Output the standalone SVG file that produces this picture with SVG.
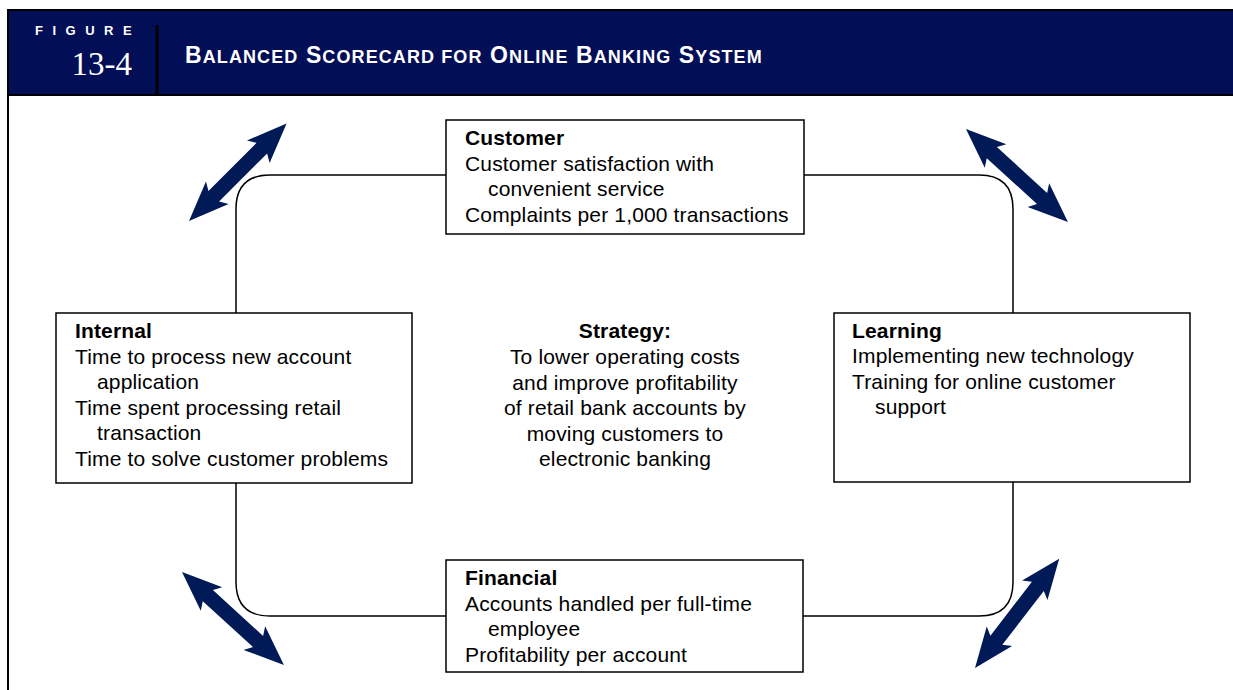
<svg xmlns="http://www.w3.org/2000/svg" width="1233" height="690" viewBox="0 0 1233 690">
<style>
.box{fill:#fff;stroke:#000;stroke-width:1.5}
.loop{fill:none;stroke:#000;stroke-width:1.5}
.t{font-family:"Liberation Sans",Arial,sans-serif;font-size:21px;letter-spacing:0.15px;fill:#000}
.b{font-weight:bold}
.arr{fill:#001A57}
.hd{font-family:"Liberation Sans",Arial,sans-serif;font-weight:bold;fill:#fff}
</style>
<defs>
<path id="dbl" d="M0,0 L40,-16 L35,-7.5 L103,-7.5 L98,-16 L138,0 L98,16 L103,7.5 L35,7.5 L40,16 Z"/>
</defs>
<rect x="0" y="0" width="1233" height="690" fill="#fff"/>
<g id="header">
<rect x="8" y="10" width="1226" height="85" fill="#020E55" stroke="#000" stroke-width="2"/>
<line x1="157" y1="25" x2="157" y2="95" stroke="#000" stroke-width="3"/>
<text x="35" y="35" class="hd" font-size="13" letter-spacing="9.5">FIGURE</text>
<text x="132" y="75" font-family="'Liberation Serif',serif" font-size="33" fill="#fff" text-anchor="end">13-4</text>
<text x="185" y="63" class="hd" font-size="23" letter-spacing="1.1">B<tspan font-size="18">ALANCED</tspan> S<tspan font-size="18">CORECARD FOR</tspan> O<tspan font-size="18">NLINE</tspan> B<tspan font-size="18">ANKING</tspan> S<tspan font-size="18">YSTEM</tspan></text>
</g>
<line x1="8" y1="95" x2="8" y2="690" stroke="#000" stroke-width="2"/>
<g id="connectors">
<path class="loop" d="M446,175 H270 Q236,175 236,209 V313"/>
<path class="loop" d="M804,175 H979 Q1013,175 1013,209 V313"/>
<path class="loop" d="M236,483 V582 Q236,616 270,616 H446"/>
<path class="loop" d="M1013,482 V582 Q1013,616 979,616 H803"/>
<use href="#dbl" class="arr" transform="translate(189,221) rotate(-45)"/>
<use href="#dbl" class="arr" transform="translate(966,129) rotate(42.4)"/>
<use href="#dbl" class="arr" transform="translate(182,572) rotate(42.4)"/>
<use href="#dbl" class="arr" transform="translate(975,668) rotate(-52.4)"/>
</g>
<g id="customer">
<rect class="box" x="446" y="120" width="358" height="114"/>
<text class="t b" x="465" y="145">Customer</text>
<text class="t" x="465" y="171">Customer satisfaction with</text>
<text class="t" x="488" y="196">convenient service</text>
<text class="t" x="465" y="222">Complaints per 1,000 transactions</text>
</g>
<g id="internal">
<rect class="box" x="56" y="313" width="356" height="170"/>
<text class="t b" x="75" y="338">Internal</text>
<text class="t" x="75" y="364">Time to process new account</text>
<text class="t" x="97" y="389">application</text>
<text class="t" x="75" y="415">Time spent processing retail</text>
<text class="t" x="97" y="440">transaction</text>
<text class="t" x="75" y="466">Time to solve customer problems</text>
</g>
<g id="learning">
<rect class="box" x="834" y="313" width="356" height="169"/>
<text class="t b" x="852" y="338">Learning</text>
<text class="t" x="852" y="363">Implementing new technology</text>
<text class="t" x="852" y="389">Training for online customer</text>
<text class="t" x="875" y="414">support</text>
</g>
<g id="financial">
<rect class="box" x="446" y="560" width="357" height="112"/>
<text class="t b" x="465" y="585">Financial</text>
<text class="t" x="465" y="611">Accounts handled per full-time</text>
<text class="t" x="488" y="636">employee</text>
<text class="t" x="465" y="662">Profitability per account</text>
</g>
<g id="strategy">
<text class="t b" x="625" y="338" text-anchor="middle">Strategy:</text>
<text class="t" x="625" y="364" text-anchor="middle">To lower operating costs</text>
<text class="t" x="625" y="390" text-anchor="middle">and improve profitability</text>
<text class="t" x="625" y="415" text-anchor="middle">of retail bank accounts by</text>
<text class="t" x="625" y="441" text-anchor="middle">moving customers to</text>
<text class="t" x="625" y="466" text-anchor="middle">electronic banking</text>
</g>
</svg>
